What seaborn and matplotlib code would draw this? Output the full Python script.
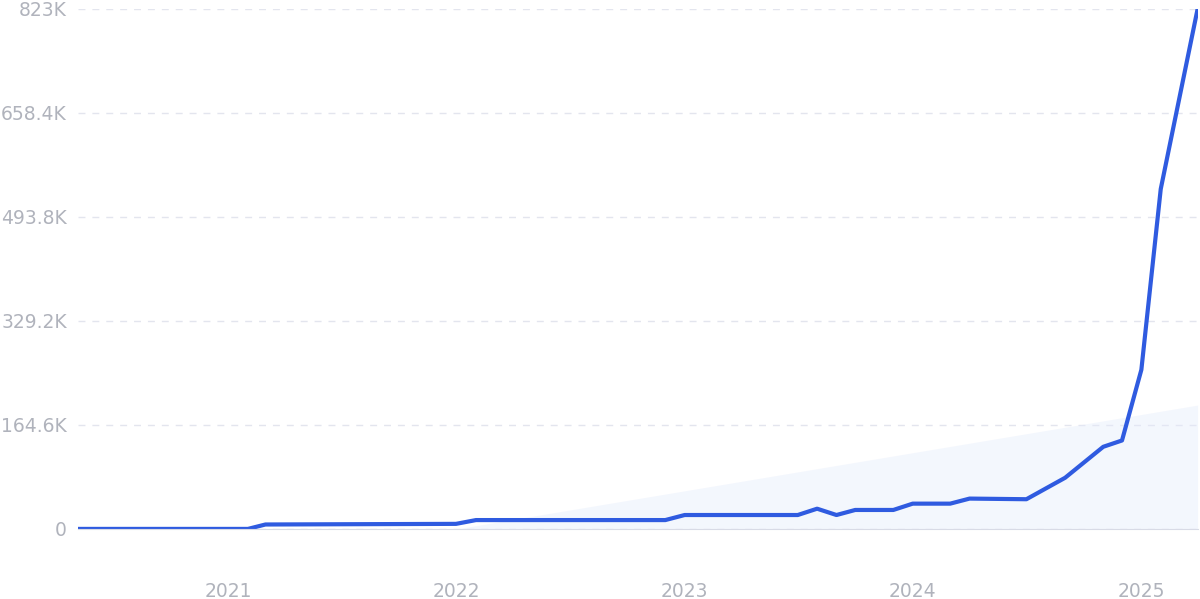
import pandas as pd
import numpy as np
import seaborn as sns
import matplotlib.pyplot as plt
import matplotlib.dates as mdates

# data
dates = ["2020-05-01", "2021-02-01", "2021-03-01", "2021-12-31", "2022-02-01",
         "2022-12-01", "2023-01-01", "2023-07-01", "2023-08-01", "2023-09-01",
         "2023-10-01", "2023-12-01", "2024-01-01", "2024-03-01", "2024-04-01",
         "2024-07-01", "2024-09-01", "2024-11-01", "2024-12-01", "2025-01-01",
         "2025-02-01", "2025-04-01"]
values = [0, 0, 7000, 8000, 14000,
          14000, 22000, 22000, 32000, 22000,
          30000, 30000, 40000, 40000, 48000,
          47000, 81000, 130000, 140000, 252000,
          538000, 823000]
trend_dates = ["2022-01-01", "2025-04-01"]
trend_values = [0, 196000]
ytick_vals = [0, 164600, 329200, 493800, 658400, 823000]
ytick_labels = ["0", "164.6K", "329.2K", "493.8K", "658.4K", "823K"]

df = pd.DataFrame({"date": pd.to_datetime(dates), "value": values})
td = pd.to_datetime(trend_dates)

fig, ax = plt.subplots(figsize=(12, 5.99), dpi=100)
fig.subplots_adjust(left=0.065, right=0.998, top=0.985, bottom=0.117)

# faint trend wedge
ax.fill_between(td, [0, 0], trend_values, color="#e3ebfb", alpha=0.4, lw=0)

sns.lineplot(data=df, x="date", y="value", ax=ax, color="#2f5be0", linewidth=3)

ax.set_xlim(pd.Timestamp("2020-05-05"), pd.Timestamp("2025-04-01"))
ax.set_ylim(0, 823000)
ax.set_yticks(ytick_vals)
ax.set_yticklabels(ytick_labels)
ax.xaxis.set_major_locator(mdates.YearLocator())
ax.xaxis.set_major_formatter(mdates.DateFormatter("%Y"))
ax.grid(axis="y", color="#e3e5ee", linestyle=(0, (5, 5)), linewidth=1)
ax.set_axisbelow(True)
for s in ["top", "right", "left"]:
    ax.spines[s].set_visible(False)
ax.spines["bottom"].set_color("#d8dbe6")
ax.tick_params(axis="both", length=0, labelsize=13.5, colors="#b0b3bc")
ax.tick_params(axis="x", pad=38)
ax.tick_params(axis="y", pad=8)
ax.set_xlabel("")
ax.set_ylabel("")

plt.savefig("out.png")
